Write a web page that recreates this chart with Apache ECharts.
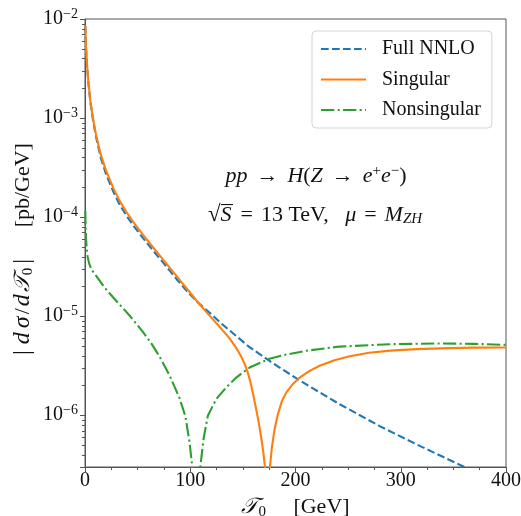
<!DOCTYPE html>
<html><head><meta charset="utf-8">
<script src="https://cdn.jsdelivr.net/npm/echarts@6/dist/echarts.min.js"></script>
<style>html,body{margin:0;padding:0;background:#fff}#c{width:521px;height:516px}</style>
</head><body><div id="c"></div>
<script>
// ---- data (tau0 in GeV, |dsigma/dtau0| in pb/GeV) ----
const fullTau = [0.3,1,2,3.1,5,7.5,10.5,15,20,27,33,40,47,55,64,75,87,97,107,119,128,147,156,175,204,242,280,318,358,390];
const fullVal = [8.51e-3,5.01e-3,3.31e-3,2.34e-3,1.48e-3,9.77e-4,6.46e-4,3.98e-4,2.72e-4,1.80e-4,1.33e-4,1.01e-4,7.94e-5,6.17e-5,4.68e-5,3.39e-5,2.37e-5,1.78e-5,1.38e-5,1.07e-5,8.71e-6,5.89e-6,4.90e-6,3.55e-6,2.24e-6,1.29e-6,7.76e-7,4.90e-7,3.09e-7,2.09e-7];

const singTau = [0.3,1,2,3.1,5,7.5,10.5,15,20,27,33,40,47,55,64,75,87,97,107,115,122,130,137,143,148,152,155,157.5,160,162.5,165,167.5,169.5,171,173.3,175.5,177.5,180,183,187,191.3,197,204,213,223,237,251.5,270,290,315,337,370,400];
const singVal = [8.61e-3,5.13e-3,3.39e-3,2.40e-3,1.51e-3,1.0e-3,6.76e-4,4.27e-4,2.95e-4,1.95e-4,1.45e-4,1.10e-4,8.61e-5,6.65e-5,5.05e-5,3.63e-5,2.54e-5,1.88e-5,1.39e-5,1.11e-5,9.18e-6,7.36e-6,6.03e-6,4.90e-6,3.98e-6,3.24e-6,2.63e-6,2.09e-6,1.58e-6,1.17e-6,8.51e-7,5.89e-7,4.17e-7,2.95e-7,3.2e-9,2.82e-7,4.68e-7,7.08e-7,1.0e-6,1.38e-6,1.70e-6,2.04e-6,2.40e-6,2.79e-6,3.16e-6,3.59e-6,3.94e-6,4.27e-6,4.49e-6,4.65e-6,4.73e-6,4.81e-6,4.82e-6];

const nonsTau = [0.3,0.6,1.0,1.6,2.5,4,6,10.8,18.7,26.6,36.2,42.5,54.8,63,70.7,80.2,89.7,95.4,99.3,101.8,106,109.7,112.6,116.7,124.6,134.2,143.7,156.4,175.4,190,210,242,289.6,337,370,400];
const nonsVal = [1.15e-4,7.94e-5,6.03e-5,4.79e-5,3.98e-5,3.39e-5,2.97e-5,2.54e-5,1.94e-5,1.55e-5,1.20e-5,1.01e-5,6.98e-6,5.31e-6,3.93e-6,2.54e-6,1.50e-6,9.72e-7,5.37e-7,3.09e-7,3.2e-9,3.09e-7,5.75e-7,9.86e-7,1.45e-6,1.91e-6,2.40e-6,3.03e-6,3.72e-6,4.07e-6,4.47e-6,4.93e-6,5.21e-6,5.30e-6,5.25e-6,5.13e-6];

const seriesNames = ['Full NNLO','Singular','Nonsingular'];
const xTicks = [0,100,200,300,400];
const yMantissas = [2,3,4,5,6,7,8,9];
const yDecades = [1e-7,1e-6,1e-5,1e-4,1e-3];

const F = "'Liberation Serif','DejaVu Serif',serif";
const INK = '#111';
const AX = '#555';
const yMin = 3e-7, yMax = 1e-2;

const minorY = [];
yDecades.forEach(d => yMantissas.forEach(m => { const v = m*d; if (v > yMin*1.02 && v < yMax) minorY.push([0, v]); }));

const pairs = (t, v) => t.map((x, i) => [x, v[i]]);

// vinculum for the square root, used as the background of the radicand token
const vinc = document.createElement('canvas');
vinc.width = 8; vinc.height = 24;
(function(){ const g = vinc.getContext('2d'); g.fillStyle = INK; g.fillRect(0, 0, 8, 1.1); })();

const rich = {
  r:   {fontSize:22, fontFamily:F, color:INK, lineHeight:24},
  i:   {fontSize:22, fontFamily:F, color:INK, lineHeight:24, fontStyle:'italic'},
  rs:  {fontSize:22, fontFamily:F, color:INK, lineHeight:24, fontStyle:'italic', backgroundColor:{image:vinc}, padding:[0,1,0,0]},
  ar:  {fontSize:22, fontFamily:F, color:INK, lineHeight:24, padding:[0,9,0,9]},
  eq:  {fontSize:22, fontFamily:F, color:INK, lineHeight:24, padding:[0,8,0,8]},
  rad: {fontSize:23, fontFamily:F, color:INK, lineHeight:24},
  sup: {fontSize:15, fontFamily:F, color:INK, lineHeight:10, verticalAlign:'top'},
  sub: {fontSize:15, fontFamily:F, color:INK, lineHeight:10, verticalAlign:'bottom', fontStyle:'italic'},
  subr:{fontSize:15, fontFamily:F, color:INK, lineHeight:10, verticalAlign:'bottom'},
  c:   {fontSize:22, fontFamily:"'DejaVu Serif','DejaVu Sans','Noto Sans',serif", color:INK, lineHeight:26, fontStyle:'italic'},
  v:   {fontSize:22, fontFamily:F, color:INK, lineHeight:26},
  bar: {fontSize:24, fontFamily:F, color:INK, lineHeight:26, padding:[0,4,0,4]},
  vi:  {fontSize:24, fontFamily:F, color:INK, lineHeight:26, fontStyle:'italic', padding:[0,2,0,2]}
};

const chart = echarts.init(document.getElementById('c'), null, {renderer:'canvas'});
chart.setOption({
  animation:false,
  backgroundColor:'#fff',
  grid:{left:85, right:15, top:19, bottom:49, outerBoundsMode:'none', containLabel:false,
        show:true, borderColor:AX, borderWidth:1, backgroundColor:'transparent'},
  legend:{
    data:seriesNames, orient:'vertical', left:312, top:31,
    padding:[8,11,8,8], itemWidth:45, itemHeight:20, itemGap:10.5,
    itemStyle:{opacity:0},
    textStyle:{fontSize:20, fontFamily:F, color:INK, padding:[0,0,0,11]},
    backgroundColor:'rgba(255,255,255,0.85)', borderColor:'#d4d4d4', borderWidth:1, borderRadius:4
  },
  xAxis:{
    type:'value', min:xTicks[0], max:xTicks[xTicks.length-1], interval:100,
    axisLine:{lineStyle:{color:AX, width:1}},
    axisTick:{length:5, lineStyle:{color:AX}},
    minorTick:{show:true, splitNumber:4, length:3, lineStyle:{color:AX}},
    splitLine:{show:false}, minorSplitLine:{show:false},
    axisLabel:{fontSize:20, fontFamily:F, color:INK, margin:4},
    name:'{c|𝒯}{subr|0}{v|     }{v|[GeV]}', nameLocation:'middle', nameGap:17,
    nameTextStyle:{rich:rich}
  },
  yAxis:{
    type:'log', logBase:10, min:yMin, max:yMax,
    axisLine:{show:true, lineStyle:{color:AX, width:1}},
    axisTick:{length:5, lineStyle:{color:AX}},
    splitLine:{show:false},
    axisLabel:{
      margin:7,
      formatter:function(v){ const e = Math.log10(v); const r = Math.round(e); if (Math.abs(e-r) > 1e-6) return ''; return '{b|10}{s|' + (r<0?'−':'') + Math.abs(r) + '}'; },
      rich:{
        b:{fontSize:20, fontFamily:F, color:INK, lineHeight:24},
        s:{fontSize:14, fontFamily:F, color:INK, lineHeight:12, verticalAlign:'top'}
      }
    },
    name:'{bar||}{vi|d}{vi|σ}{v|/}{vi|d}{c|𝒯}{subr|0}{bar||}{v|     }{v|[pb/GeV]}', nameLocation:'middle', nameGap:49,
    nameMoveOverlap:false,
    nameTextStyle:{rich:rich, padding:[0,16,0,0]}
  },
  graphic:[
    {type:'text', x:316, y:176, silent:true, style:{
      text:'{i|pp}{ar|→}{i|H}{r|(}{i|Z}{ar|→}{i|e}{sup|+}{i|e}{sup|−}{r|)}',
      rich:rich, fontSize:22, fontFamily:F, lineHeight:24, align:'center', verticalAlign:'middle', fill:INK}},
    {type:'text', x:315, y:215, silent:true, style:{
      text:'{rad|√}{rs|S}{eq|=}{r|13 TeV,}{r|   }{i|μ}{eq|=}{i|M}{sub|ZH}',
      rich:rich, fontSize:22, fontFamily:F, lineHeight:24, align:'center', verticalAlign:'middle', fill:INK}}
  ],
  series:[
    {name:seriesNames[0], type:'line', data:pairs(fullTau, fullVal), showSymbol:false, symbol:'none', clip:true,
      lineStyle:{color:'#1f77b4', width:2.1, type:[7.7,3.3]}, itemStyle:{color:'#1f77b4'}},
    {name:seriesNames[1], type:'line', data:pairs(singTau, singVal), showSymbol:false, symbol:'none', clip:true,
      lineStyle:{color:'#ff7f0e', width:2.1, type:'solid'}, itemStyle:{color:'#ff7f0e'}},
    {name:seriesNames[2], type:'line', data:pairs(nonsTau, nonsVal), showSymbol:false, symbol:'none', clip:true,
      lineStyle:{color:'#2ca02c', width:2.1, type:[13.3,3.3,2.1,3.3]}, itemStyle:{color:'#2ca02c'}},
    {name:'yMinorTicks', type:'custom', data:minorY, silent:true, clip:false, z:5,
      renderItem:function(params, api){
        const p = api.coord([0, api.value(1)]);
        return {type:'line', shape:{x1:p[0]-3, y1:Math.round(p[1])+0.5, x2:p[0], y2:Math.round(p[1])+0.5}, style:{stroke:AX, lineWidth:1}};
      }}
  ]
});
</script>
</body></html>
